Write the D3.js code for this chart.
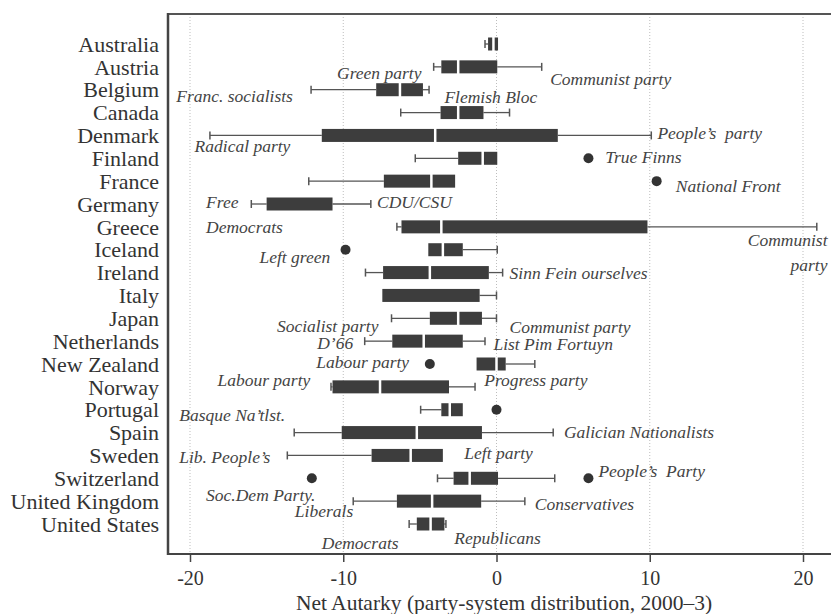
<!DOCTYPE html>
<html>
<head>
<meta charset="utf-8">
<script src="https://cdn.jsdelivr.net/npm/d3@7"></script>
<style>
  body { margin: 0; background: #fff; }
  svg { display: block; }
  text { font-family: "Liberation Serif", "Times New Roman", serif; }
</style>
</head>
<body>
<div id="chart"></div>
<script>
/**
 * DATA
 * */
const countries = ["Australia", "Austria", "Belgium", "Canada", "Denmark", "Finland",
  "France", "Germany", "Greece", "Iceland", "Ireland", "Italy", "Japan", "Netherlands",
  "New Zealand", "Norway", "Portugal", "Spain", "Sweden", "Switzerland",
  "United Kingdom", "United States"];

// five-number summaries (null median = no gap visible)
const lows    = [-0.75, -4.1, -12.1, -6.25, -18.7, -5.3, -12.25, -16.0, -6.5, -4.45, -8.55, -7.45, -6.85, -8.6, -1.3, -10.8, -4.95, -13.2, -13.65, -3.85, -9.35, -5.7];
const q1s     = [-0.55, -3.6, -7.85, -3.65, -11.4, -2.5, -7.35, -15.0, -6.2, -4.45, -7.4, -7.45, -4.35, -6.8, -1.3, -10.7, -3.6, -10.1, -8.15, -2.8, -6.5, -5.2];
const medians = [-0.2, -2.5, -6.3, -2.5, -4.0, -0.9, -4.25, null, -3.6, -3.5, -4.35, null, -2.5, -4.75, 0.0, -7.6, -3.05, -5.2, -5.6, -1.75, -4.2, -4.3];
const q3s     = [0.1, 0.05, -4.8, -0.85, 4.0, 0.05, -2.7, -10.7, 9.85, -2.2, -0.5, -1.1, -0.95, -2.2, 0.6, -3.1, -2.2, -0.95, -3.5, 0.1, -1.0, -3.4];
const highs   = [0.1, 2.95, -4.4, 0.85, 10.1, 0.05, -2.7, -8.2, 20.9, 0.05, 0.4, 0.0, 0.0, -0.75, 2.5, -1.4, -2.2, 3.7, -3.5, 3.8, 1.85, -3.3];

const outlierCountry = ["Finland", "France", "Iceland", "New Zealand", "Portugal", "Switzerland", "Switzerland"];
const outlierValue   = [6.0, 10.45, -9.85, -4.35, 0.0, -12.05, 6.0];

// party labels: text, row, x value, row offset, anchor
const partyText = ["Green party", "Communist party", "Franc. socialists", "Flemish Bloc",
  "People\u2019s  party", "Radical party", "True Finns", "National Front", "Free", "CDU/CSU",
  "Democrats", "Communist", "party", "Left green", "Sinn Fein ourselves", "Socialist party",
  "Communist party", "D\u201966", "List Pim Fortuyn", "Labour party", "Labour party",
  "Progress party", "Basque Na\u2019tlst.", "Galician Nationalists", "Left party",
  "Lib. People\u2019s", "People\u2019s  Party", "Soc.Dem Party.", "Conservatives", "Liberals",
  "Democrats", "Republicans"];
const partyRow = ["Austria", "Austria", "Belgium", "Belgium", "Denmark", "Denmark", "Finland",
  "France", "Germany", "Germany", "Germany", "Greece", "Greece", "Iceland", "Ireland", "Japan",
  "Japan", "Netherlands", "Netherlands", "New Zealand", "Norway", "Norway", "Portugal", "Spain",
  "Sweden", "Sweden", "Switzerland", "Switzerland", "United Kingdom", "United Kingdom",
  "United States", "United States"];
const partyX = [-4.9, 3.5, -20.9, -3.4, 10.5, -19.7, 7.1, 11.7, -18.95, -7.8, -18.95, 21.6, 21.6,
  -10.85, 0.85, -7.7, 0.85, -9.35, -0.2, -5.7, -12.15, -0.8, -20.7, 4.4, -2.1, -20.7, 6.65,
  -18.95, 2.5, -9.35, -11.4, -2.75];
const partyOff = [0.27, 0.53, 0.28, 0.32, -0.1, 0.46, -0.05, 0.21, -0.09, -0.09, 1.0, 0.57, 1.7,
  0.32, 0.02, 0.35, 0.39, 0.1, 0.15, -0.09, -0.3, -0.3, 0.23, 0, -0.1, 0.1, -0.32, 0.73, 0.12,
  0.43, 0.83, 0.61];
const partyAnchor = ["end", "start", "start", "start", "start", "start", "start", "start", "start",
  "start", "start", "end", "end", "end", "start", "end", "start", "end", "start", "end", "end",
  "start", "start", "start", "start", "start", "start", "start", "start", "end", "start", "start"];

const xTicks = [-20, -10, 0, 10, 20];

/**
 * LAYOUT
 * */
const width = 831, height = 614;
const frame = { left: 168, right: 831, top: 14, bottom: 554 };

const svg = d3.select("#chart").append("svg")
  .attr("width", width)
  .attr("height", height);

const x = d3.scaleLinear().domain([-20, 20]).range([190, 803]);
const y = d3.scalePoint().domain(countries).range([44, 524]);
const rowStep = y.step();

// dotted grid
svg.selectAll("line.grid")
  .data(xTicks)
  .join("line")
  .attr("class", "grid")
  .attr("x1", d => x(d)).attr("x2", d => x(d))
  .attr("y1", frame.top).attr("y2", frame.bottom)
  .attr("stroke", "#bdbdbd")
  .attr("stroke-width", 1)
  .attr("stroke-dasharray", "1,2");

// frame lines
svg.append("line")
  .attr("x1", frame.left).attr("x2", frame.right)
  .attr("y1", frame.top).attr("y2", frame.top)
  .attr("stroke", "#555").attr("stroke-width", 2);
svg.append("line")
  .attr("x1", frame.left).attr("x2", frame.left)
  .attr("y1", frame.top - 1).attr("y2", frame.bottom + 1)
  .attr("stroke", "#444").attr("stroke-width", 2.5);

// bottom axis
const xAxis = d3.axisBottom(x).tickValues(xTicks).tickSize(8).tickPadding(9)
  .tickFormat(d => String(d));
const gx = svg.append("g")
  .attr("transform", `translate(0,${frame.bottom})`)
  .call(xAxis);
gx.select(".domain").remove();
gx.append("line")
  .attr("x1", frame.left).attr("x2", frame.right)
  .attr("stroke", "#444").attr("stroke-width", 2);
gx.selectAll(".tick line").attr("stroke", "#444").attr("stroke-width", 1.5);
gx.selectAll(".tick text")
  .attr("fill", "#333")
  .style("font-size", "20px")
  .style("font-family", "'Liberation Serif', serif");

svg.append("text")
  .attr("x", 504)
  .attr("y", 610)
  .attr("text-anchor", "middle")
  .attr("fill", "#333")
  .style("font-size", "21.5px")
  .text("Net Autarky (party-system distribution, 2000\u20133)");

// country labels
svg.selectAll("text.country")
  .data(countries)
  .join("text")
  .attr("class", "country")
  .attr("x", 159)
  .attr("y", d => y(d))
  .attr("dy", "0.35em")
  .attr("text-anchor", "end")
  .attr("fill", "#333")
  .style("font-size", "22px")
  .text(d => d);

// boxes
const boxH = 13, capH = 8;
const rows = countries.map((c, i) => ({
  c, lo: lows[i], q1: q1s[i], med: medians[i], q3: q3s[i], hi: highs[i]
}));

const g = svg.append("g");
rows.forEach(d => {
  const cy = y(d.c);
  if (d.lo < d.q1) {
    g.append("line").attr("x1", x(d.lo)).attr("x2", x(d.q1)).attr("y1", cy).attr("y2", cy)
      .attr("stroke", "#555").attr("stroke-width", 1.3);
    g.append("line").attr("x1", x(d.lo)).attr("x2", x(d.lo)).attr("y1", cy - capH / 2).attr("y2", cy + capH / 2)
      .attr("stroke", "#555").attr("stroke-width", 1.5);
  }
  if (d.hi > d.q3) {
    g.append("line").attr("x1", x(d.q3)).attr("x2", x(d.hi)).attr("y1", cy).attr("y2", cy)
      .attr("stroke", "#555").attr("stroke-width", 1.3);
    g.append("line").attr("x1", x(d.hi)).attr("x2", x(d.hi)).attr("y1", cy - capH / 2).attr("y2", cy + capH / 2)
      .attr("stroke", "#555").attr("stroke-width", 1.5);
  }
  g.append("rect")
    .attr("x", x(d.q1)).attr("y", cy - boxH / 2)
    .attr("width", x(d.q3) - x(d.q1)).attr("height", boxH)
    .attr("fill", "#3d3d3d");
  if (d.med !== null) {
    g.append("line").attr("x1", x(d.med)).attr("x2", x(d.med))
      .attr("y1", cy - boxH / 2 - 1).attr("y2", cy + boxH / 2 + 1)
      .attr("stroke", "#fff").attr("stroke-width", 2.5);
  }
});

// outliers
svg.selectAll("circle.out")
  .data(outlierValue)
  .join("circle")
  .attr("class", "out")
  .attr("cx", d => x(d))
  .attr("cy", (d, i) => y(outlierCountry[i]))
  .attr("r", 5)
  .attr("fill", "#333");

// party annotations
svg.selectAll("text.party")
  .data(partyText)
  .join("text")
  .attr("class", "party")
  .attr("x", (d, i) => x(partyX[i]))
  .attr("y", (d, i) => y(partyRow[i]) + partyOff[i] * rowStep)
  .attr("dy", "0.33em")
  .attr("text-anchor", (d, i) => partyAnchor[i])
  .attr("fill", "#444")
  .style("font-size", "17.5px")
  .style("font-style", "italic")
  .style("white-space", "pre")
  .text(d => d);
</script>
</body>
</html>
